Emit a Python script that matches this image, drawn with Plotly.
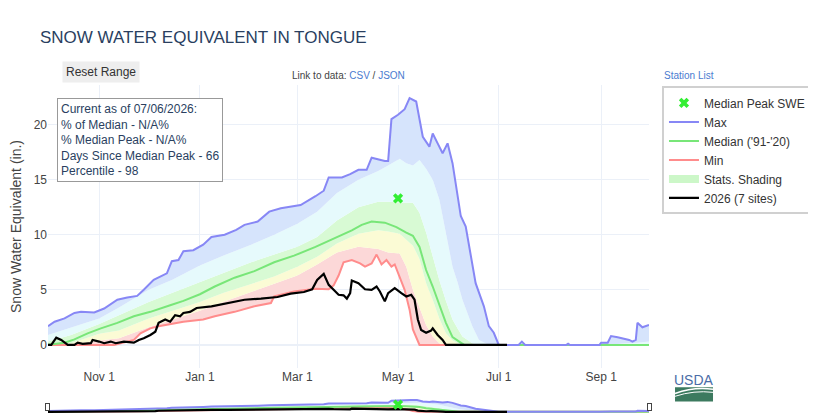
import plotly.graph_objects as go

# ---------------- data ----------------
max_dates = ["2025-10-01","2025-10-05","2025-10-11","2025-10-17","2025-10-21","2025-10-29","2025-11-04",
             "2025-11-12","2025-11-18","2025-11-24","2025-11-28","2025-12-04","2025-12-12","2025-12-15",
             "2025-12-19","2025-12-22","2025-12-28","2026-01-03","2026-01-08","2026-01-16","2026-01-23",
             "2026-01-28","2026-02-05","2026-02-12","2026-02-19","2026-03-03","2026-03-12","2026-03-17",
             "2026-03-20","2026-03-28","2026-04-02","2026-04-07","2026-04-12","2026-04-15","2026-04-23",
             "2026-04-25","2026-04-27","2026-05-01","2026-05-05","2026-05-08","2026-05-12","2026-05-16",
             "2026-05-20","2026-05-22","2026-05-25","2026-05-28","2026-05-31","2026-06-03","2026-06-08",
             "2026-06-11","2026-06-17","2026-06-22","2026-06-25","2026-06-28","2026-07-01","2026-07-13",
             "2026-07-15","2026-07-17","2026-08-11","2026-08-12","2026-08-13","2026-08-31","2026-09-01",
             "2026-09-05","2026-09-07","2026-09-11","2026-09-18","2026-09-20","2026-09-22","2026-09-23",
             "2026-09-26","2026-09-30"]
max_vals = [1.7,2.1,2.4,2.9,3.0,2.95,3.3,
            4.1,4.3,4.45,5.0,5.9,6.5,7.6,
            7.7,8.5,8.6,9.1,9.8,10.0,10.45,
            10.9,11.2,12.1,12.4,12.7,13.5,14.0,
            15.2,15.2,15.5,15.9,15.9,17.0,16.7,
            16.7,20.5,20.9,21.4,22.4,22.1,18.9,
            18.0,19.2,18.3,17.4,18.3,16.5,11.7,
            10.75,5.6,3.5,1.7,1.1,0.0,0.0,
            0.3,0.0,0.0,0.1,0.0,0.0,0.2,
            0.2,0.8,0.7,0.45,0.3,0.45,2.0,
            1.6,1.8]

median_dates = ["2025-10-01","2025-10-11","2025-10-17","2025-10-25","2025-11-02","2025-11-12","2025-11-22",
                "2025-12-02","2025-12-14","2025-12-22","2026-01-01","2026-01-10","2026-01-22","2026-02-03",
                "2026-02-15","2026-02-27","2026-03-12","2026-03-24","2026-04-03","2026-04-09","2026-04-15",
                "2026-04-23","2026-04-30","2026-05-06","2026-05-10","2026-05-14","2026-05-18","2026-05-22",
                "2026-05-26","2026-05-30","2026-06-03","2026-06-07","2026-06-10","2026-09-30"]
median_vals = [0.0,0.2,0.5,1.05,1.5,2.0,2.6,
               3.0,3.6,4.0,4.6,5.3,6.1,6.7,
               7.5,8.1,8.9,9.7,10.4,10.9,11.2,
               11.1,10.7,10.2,9.9,8.9,6.8,5.3,
               3.7,2.0,0.7,0.3,0.0,0.0]

min_dates = ["2025-10-01","2025-11-10","2025-11-14","2025-11-22","2025-11-26","2025-12-02","2025-12-07",
             "2025-12-14","2025-12-22","2026-01-03","2026-01-10","2026-01-22","2026-02-03","2026-02-13",
             "2026-02-15","2026-02-27","2026-03-12","2026-03-20","2026-03-23","2026-03-26","2026-03-29",
             "2026-04-03","2026-04-08","2026-04-11","2026-04-15","2026-04-18","2026-04-21","2026-04-24",
             "2026-04-27","2026-04-29","2026-05-02","2026-05-05","2026-05-08","2026-05-10","2026-05-14",
             "2026-09-30"]
min_vals = [0.0,0.0,0.15,0.45,1.05,1.5,1.7,
            1.9,2.1,2.3,2.6,3.0,3.5,3.8,
            4.4,4.85,5.1,5.05,5.4,6.3,7.5,
            7.7,7.4,7.1,7.4,8.2,7.3,7.7,
            7.1,7.3,6.2,5.0,3.2,1.4,0.0,
            0.0]

band_dates = ["2025-10-01","2025-10-15","2025-11-01","2025-11-13","2025-12-01","2025-12-15","2026-01-01",
              "2026-01-15","2026-02-01","2026-02-15","2026-03-01","2026-03-13","2026-03-25","2026-04-07",
              "2026-04-19","2026-04-25","2026-05-02","2026-05-06","2026-05-10","2026-05-14","2026-05-18",
              "2026-05-22","2026-05-26","2026-05-30","2026-06-03","2026-06-06","2026-06-09","2026-06-15",
              "2026-06-19","2026-06-25","2026-09-01","2026-09-23","2026-09-30"]
p10_vals = [0.0,0.0,0.4,0.6,1.6,2.3,3.1,
            3.9,4.8,5.5,6.3,7.3,8.4,8.9,
            8.7,8.4,8.3,7.1,5.0,3.4,1.8,
            0.75,0.15,0.0,0.0,0.0,0.0,0.0,
            0.0,0.0,0.0,0.0,0.0]
p30_vals = [0.0,0.15,1.0,1.3,2.4,3.1,3.9,
            4.7,5.5,6.2,7.1,8.0,9.2,10.1,
            10.4,10.3,10.1,9.55,9.0,7.8,5.6,
            4.1,2.4,1.05,0.4,0.15,0.0,0.0,
            0.0,0.0,0.0,0.0,0.0]
p70_vals = [0.3,0.9,1.9,2.7,3.9,4.7,5.7,
            6.5,7.5,8.2,8.9,9.8,11.3,12.5,
            13.0,13.0,12.9,12.9,12.9,12.0,10.2,
            8.0,5.9,4.0,2.3,1.5,0.75,0.15,
            0.0,0.0,0.0,0.0,0.0]
p90_vals = [0.9,1.6,2.4,3.4,5.0,5.9,7.2,
            8.1,9.1,10.0,11.0,12.1,13.8,15.0,
            15.8,16.3,16.9,16.5,16.3,16.8,16.0,
            15.0,13.2,10.15,7.1,5.7,4.1,1.7,
            0.45,0.0,0.0,0.2,0.3]

cur_dates = ["2025-10-01","2025-10-03","2025-10-06","2025-10-09","2025-10-13","2025-10-17","2025-10-19",
             "2025-10-22","2025-10-27","2025-10-28","2025-11-01","2025-11-04","2025-11-08","2025-11-11",
             "2025-11-16","2025-11-22","2025-11-25","2025-11-28","2025-12-02","2025-12-05","2025-12-07",
             "2025-12-11","2025-12-14","2025-12-17","2025-12-20","2025-12-22","2025-12-26","2025-12-30",
             "2026-01-08","2026-01-18","2026-01-28","2026-02-07","2026-02-17","2026-02-25","2026-03-05",
             "2026-03-10","2026-03-13","2026-03-17","2026-03-20","2026-03-23","2026-03-26","2026-03-29",
             "2026-03-31","2026-04-02","2026-04-03","2026-04-07","2026-04-11","2026-04-15","2026-04-18",
             "2026-04-20","2026-04-23","2026-04-25","2026-04-29","2026-05-03","2026-05-06","2026-05-09",
             "2026-05-11","2026-05-13","2026-05-15","2026-05-18","2026-05-21","2026-05-22","2026-05-25",
             "2026-05-28","2026-05-30","2026-07-06"]
cur_vals = [0.0,0.0,0.65,0.45,0.0,0.0,0.2,
            0.1,0.15,0.45,0.3,0.15,0.3,0.15,
            0.3,0.2,0.45,0.6,0.9,1.2,2.0,
            2.3,2.1,2.7,2.6,2.9,3.0,3.35,
            3.5,3.8,4.1,4.2,4.35,4.65,4.8,
            5.05,5.9,6.45,5.45,5.0,4.55,4.5,
            4.2,4.7,5.85,5.6,5.05,5.0,5.3,
            4.85,3.95,4.7,5.15,4.7,4.4,4.55,
            4.1,2.3,1.35,1.1,1.3,1.5,0.9,
            0.45,0.0,0.0]

peak_date = ["2026-05-01"]
peak_val = [13.3]

info_lines = ["Current as of 07/06/2026:", "% of Median - N/A%", "% Median Peak - N/A%",
              "Days Since Median Peak - 66", "Percentile - 98"]

# ---------------- styles ----------------
FONT = "Arial, Liberation Sans, sans-serif"
C_MAX = "#8787f5"
C_MED = "#78e678"
C_MIN = "#ff8c8c"
F_PINK = "#fcd8d8"
F_YEL = "#fbfbd5"
F_GRN = "#d8fad4"
F_CYN = "#e6fafc"
F_BLU = "#d6e4fc"

fig = go.Figure()

def band(x, y, fill, color):
    fig.add_trace(go.Scatter(x=x, y=y, mode="lines", line=dict(width=0), fill=fill,
                             fillcolor=color, showlegend=False, hoverinfo="skip"))

band(min_dates, min_vals, None, None)
band(band_dates, p10_vals, "tonexty", F_PINK)
band(band_dates, p30_vals, "tonexty", F_YEL)
band(band_dates, p70_vals, "tonexty", F_GRN)
band(band_dates, p90_vals, "tonexty", F_CYN)
band(max_dates, max_vals, "tonexty", F_BLU)

fig.add_trace(go.Scatter(x=min_dates, y=min_vals, mode="lines", name="Min",
                         line=dict(color=C_MIN, width=2), legendrank=4))
fig.add_trace(go.Scatter(x=median_dates, y=median_vals, mode="lines", name="Median ('91-'20)",
                         line=dict(color=C_MED, width=2), legendrank=3))
fig.add_trace(go.Scatter(x=max_dates, y=max_vals, mode="lines", name="Max",
                         line=dict(color=C_MAX, width=2), legendrank=2))
fig.add_trace(go.Scatter(x=[None], y=[None], mode="lines", name="Stats. Shading",
                         line=dict(color="#ccf7c8", width=8), legendrank=5))
fig.add_trace(go.Scatter(x=cur_dates, y=cur_vals, mode="lines", name="2026 (7 sites)",
                         line=dict(color="black", width=2.2), legendrank=6))
fig.add_trace(go.Scatter(x=peak_date, y=peak_val, mode="markers", name="Median Peak SWE",
                         marker=dict(symbol="x", color="#33ee33", size=9), legendrank=1))

fig.update_layout(
    template="plotly_white",
    width=816, height=420,
    margin=dict(l=40, r=175, t=77, b=60, autoexpand=False),
    font=dict(family=FONT, size=12, color="#444"),
    title=dict(text="SNOW WATER EQUIVALENT IN TONGUE", x=32 / 816, xanchor="left", xref="container",
               y=1 - 29 / 420, yanchor="middle", font=dict(size=17, color="#2a3f5f", family=FONT)),
    showlegend=True,
    legend=dict(x=1.0216, y=0.995, xanchor="left", yanchor="top", bordercolor="#d0d0d0",
                borderwidth=2, font=dict(size=12, color="#333"), bgcolor="white",
                traceorder="normal"),
    xaxis=dict(range=["2025-10-01", "2026-09-30"], tick0="2025-11-01", dtick="M2",
               tickformat="%b %-d", gridcolor="#EBF0F8", showline=False, automargin=False,
               tickfont=dict(size=12, color="#444"),
               rangeslider=dict(visible=True, thickness=0.05, bgcolor="white")),
    yaxis=dict(range=[-2.1, 23.6], dtick=5, gridcolor="#EBF0F8", zeroline=True, automargin=False,
               zerolinecolor="#EBF0F8", zerolinewidth=2, tickfont=dict(size=12, color="#444"),
               title=dict(text="Snow Water Equivalent (in.)", font=dict(size=14, color="#444"))),
)

# "Reset Range" button look
fig.add_annotation(xref="paper", yref="paper", x=0.0882, y=1.0466, xanchor="center", yanchor="middle",
                   text="Reset Range", showarrow=False, font=dict(size=12, color="#333"),
                   bgcolor="#eeeeee", borderpad=3)
fig.add_annotation(xref="paper", yref="paper", x=0.015, y=0.953, xanchor="left", yanchor="top",
                   text="<br>".join(info_lines), align="left", showarrow=False,
                   font=dict(size=12, color="#2a3f5f"), bordercolor="#999", borderwidth=1,
                   borderpad=3, bgcolor="white")
fig.add_annotation(xref="paper", yref="paper", x=0.5, y=1.032, xanchor="center", yanchor="middle",
                   text="Link to data: <span style='color:#4a7bd0'>CSV</span> / "
                        "<span style='color:#4a7bd0'>JSON</span>",
                   showarrow=False, font=dict(size=10, color="#444"))
fig.add_annotation(xref="paper", yref="paper", x=1.0216, y=1.032, xanchor="left", yanchor="middle",
                   text="Station List", showarrow=False, font=dict(size=10, color="#4a7bd0"))

# USDA logo
fig.add_annotation(xref="paper", yref="paper", x=1.075, y=-0.043, xanchor="center", yanchor="middle",
                   text="USDA", showarrow=False,
                   font=dict(size=14, color="#4a6da7", family="Liberation Sans Narrow, Arial Narrow, Arial"))
fig.add_shape(type="rect", xref="paper", yref="paper", x0=1.0433, x1=1.1065, y0=-0.1183, y1=-0.0681,
              fillcolor="#3c7a5f", line=dict(width=0))
fig.add_shape(type="path", xref="paper", yref="paper",
              path="M 1.0433,-0.090 Q 1.075,-0.065 1.1065,-0.075",
              line=dict(color="white", width=1.5))
fig.add_shape(type="path", xref="paper", yref="paper",
              path="M 1.0433,-0.100 Q 1.075,-0.078 1.1065,-0.086",
              line=dict(color="white", width=1))

fig.write_html("out.html")
